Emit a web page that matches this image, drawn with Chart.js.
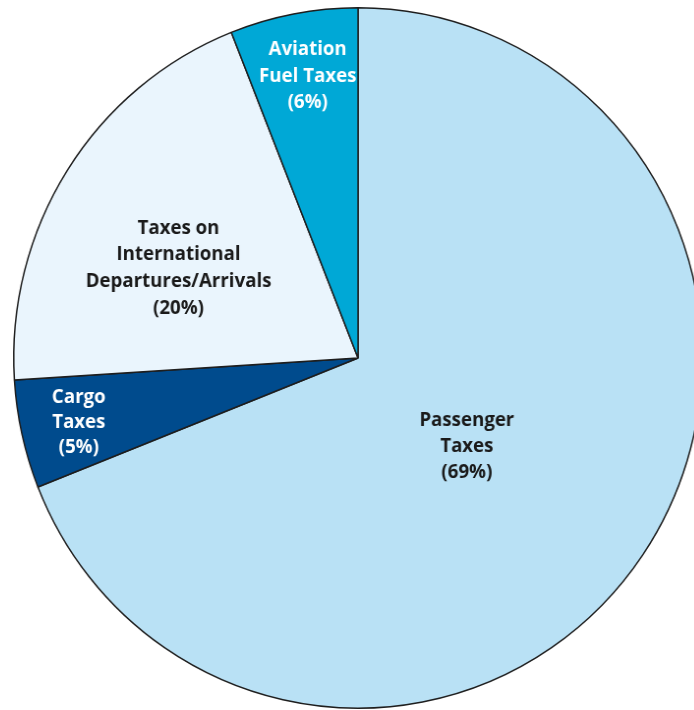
<!DOCTYPE html>
<html>
<head>
<meta charset="utf-8">
<script src="https://cdn.jsdelivr.net/npm/chart.js@4/dist/chart.umd.min.js"></script>
<style>
  html, body { margin: 0; padding: 0; background: #ffffff; overflow: hidden; width: 694px; height: 710px; }
  #wrap { position: absolute; left: 0; top: 0; width: 716px; height: 716px; transform: scaleX(0.983); transform-origin: 358px 358px; }
</style>
</head>
<body>
<div id="wrap"><canvas id="c" width="716" height="716"></canvas></div>
<script>
// ---- data ----
const categories = ["Passenger Taxes", "Cargo Taxes", "Taxes on International Departures/Arrivals", "Aviation Fuel Taxes"];
const shares = [69, 5, 20, 6];
const labelLines = [
  ["Passenger", "Taxes", "(69%)"],
  ["Cargo", "Taxes", "(5%)"],
  ["Taxes on", "International", "Departures/Arrivals", "(20%)"],
  ["Aviation", "Fuel Taxes", "(6%)"]
];

// ---- styling ----
const sliceColors = ["#b9e1f5", "#004b8d", "#eaf5fd", "#00a8d6"];
const textColors = ["#1a1a1a", "#ffffff", "#1a1a1a", "#ffffff"];
const labelAngleShiftDeg = [4.5, -0.3, -6.2, 0.5];
const labelRadiusFrac = [0.405, 0.832, 0.581, 0.817];
const lineHeights = [26, 25, 26.7, 26.5];

const labelPlugin = {
  id: 'sliceLabels',
  afterDatasetsDraw(chart) {
    const ctx = chart.ctx;
    const arcs = chart.getDatasetMeta(0).data;
    ctx.save();
    ctx.font = 'bold 19px "Open Sans", "Liberation Sans", sans-serif';
    ctx.textAlign = 'center';
    ctx.textBaseline = 'middle';
    arcs.forEach((arc, i) => {
      const p = arc.getProps(['x', 'y', 'startAngle', 'endAngle', 'outerRadius'], true);
      const mid = (p.startAngle + p.endAngle) / 2 + labelAngleShiftDeg[i] * Math.PI / 180;
      const r = p.outerRadius * labelRadiusFrac[i];
      const cx = p.x + Math.cos(mid) * r;
      const cy = p.y + Math.sin(mid) * r;
      const lines = labelLines[i];
      const lh = lineHeights[i];
      const y0 = cy - (lines.length - 1) * lh / 2;
      ctx.fillStyle = textColors[i];
      lines.forEach((t, k) => ctx.fillText(t, cx, y0 + k * lh));
    });
    ctx.restore();
  }
};

new Chart(document.getElementById('c'), {
  type: 'pie',
  data: {
    labels: categories,
    datasets: [{
      data: shares,
      backgroundColor: sliceColors,
      borderColor: '#1e1e1e',
      borderWidth: 1.5
    }]
  },
  options: {
    responsive: false,
    animation: false,
    devicePixelRatio: 1,
    layout: { padding: 7 },
    plugins: { legend: { display: false }, tooltip: { enabled: false } }
  },
  plugins: [labelPlugin]
});
</script>
</body>
</html>
